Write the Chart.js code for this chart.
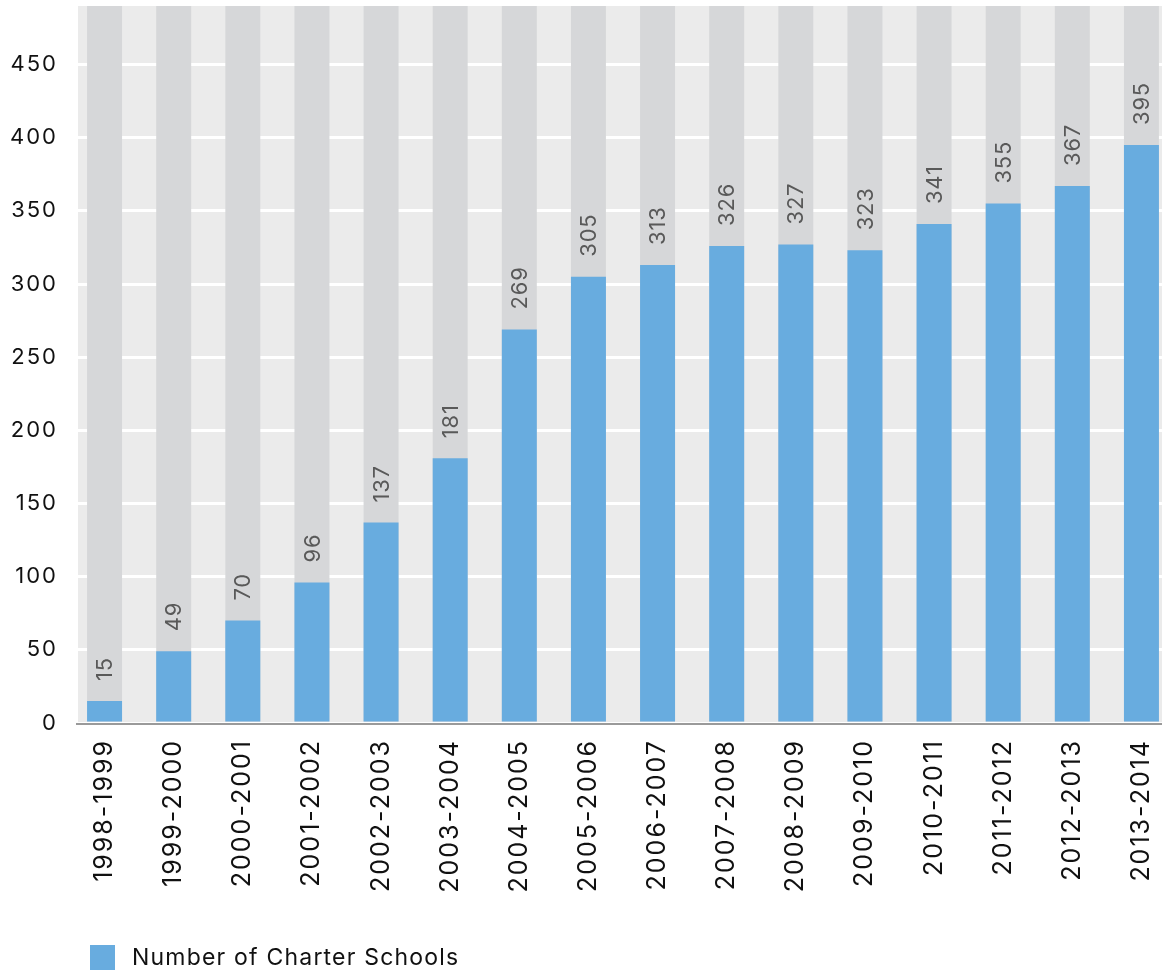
<!DOCTYPE html>
<html>
<head>
<meta charset="utf-8">
<title>Number of Charter Schools</title>
<script src="https://cdn.jsdelivr.net/npm/chart.js@4.4.1/dist/chart.umd.min.js"></script>
<style>
  html, body { margin: 0; padding: 0; background: #fff; overflow: hidden; }
  #wrap { position: relative; width: 1180px; height: 971px; }
  #canvasBox { position: absolute; left: 0; top: 0; width: 1180px; height: 971px; }
  #legend {
    position: absolute; left: 90px; top: 943px;
    display: flex; align-items: center;
    font-family: Inter, "Noto Sans", sans-serif; font-size: 23px;
    color: #111; letter-spacing: 1.2px;
  }
  #legend .box { width: 25px; height: 25px; margin-right: 17px; }
</style>
</head>
<body>
<div id="wrap">
  <div id="canvasBox"><canvas id="chart"></canvas></div>
  <div id="legend"></div>
</div>
<script>
const years = [
  '1998-1999', '1999-2000', '2000-2001', '2001-2002', '2002-2003', '2003-2004',
  '2004-2005', '2005-2006', '2006-2007', '2007-2008', '2008-2009', '2009-2010',
  '2010-2011', '2011-2012', '2012-2013', '2013-2014'
];
const schools = [15, 49, 70, 96, 137, 181, 269, 305, 313, 326, 327, 323, 341, 355, 367, 395];
const yTicks = [0, 50, 100, 150, 200, 250, 300, 350, 400, 450];
const Y_MAX = 490;
// grey track behind every bar, running to the top of the axis
const track = years.map(() => Y_MAX);

const FONT = 'Inter, "Noto Sans", sans-serif';
const BLUE = '#68acdf';

// letter spacing lives on the context and is lost on every resize
const spacing = {
  id: 'spacing',
  beforeLayout(chart) { chart.ctx.letterSpacing = '2px'; },
  beforeDraw(chart) { chart.ctx.letterSpacing = '2px'; }
};

const plotBackground = {
  id: 'plotBackground',
  beforeDraw(chart) {
    const { ctx, chartArea: a } = chart;
    const left = a.left + 8;
    ctx.save();
    ctx.fillStyle = '#ebebeb';
    ctx.fillRect(left, a.top, a.right - left, a.bottom - a.top);
    ctx.restore();
  },
  afterDatasetsDraw(chart) {
    const { ctx, chartArea: a } = chart;
    ctx.save();
    ctx.strokeStyle = '#9a9a9a';
    ctx.lineWidth = 2;
    ctx.beginPath();
    ctx.moveTo(a.left + 6, a.bottom + 1);
    ctx.lineTo(a.right, a.bottom + 1);
    ctx.stroke();
    ctx.restore();
  }
};

const valueLabels = {
  id: 'valueLabels',
  afterDatasetsDraw(chart) {
    const { ctx } = chart;
    const meta = chart.getDatasetMeta(0);
    ctx.save();
    ctx.font = '22px ' + FONT;
    ctx.letterSpacing = '0.8px';
    ctx.fillStyle = '#595959';
    ctx.textAlign = 'left';
    ctx.textBaseline = 'middle';
    meta.data.forEach((bar, i) => {
      ctx.save();
      ctx.translate(bar.x, bar.y - 20);
      ctx.rotate(-Math.PI / 2);
      ctx.fillText(String(schools[i]), 0, 1);
      ctx.restore();
    });
    ctx.restore();
  }
};

const ctx = document.getElementById('chart').getContext('2d');
const chart = new Chart(ctx, {
  type: 'bar',
  data: {
    labels: years,
    datasets: [
      {
        label: 'Number of Charter Schools',
        data: schools,
        backgroundColor: BLUE,
        grouped: false,
        order: 0
      },
      {
        label: 'track',
        data: track,
        backgroundColor: '#d6d7d9',
        grouped: false,
        order: 1
      }
    ]
  },
  options: {
    responsive: true,
    maintainAspectRatio: false,
    animation: false,
    layout: { padding: { top: 6, right: 4, bottom: 68, left: 0 } },
    datasets: { bar: { barPercentage: 0.506, categoryPercentage: 1 } },
    plugins: {
      legend: { display: false },
      tooltip: { enabled: false }
    },
    scales: {
      x: {
        grid: { display: false },
        border: { display: false },
        ticks: {
          autoSkip: false,
          minRotation: 90,
          maxRotation: 90,
          padding: 8,
          color: '#111',
          font: { family: FONT, size: 25 }
        },
        afterFit(scale) {
          scale.height = 180;
          scale.paddingLeft = 0;
          scale.paddingRight = 0;
        }
      },
      y: {
        min: 0,
        max: Y_MAX,
        grid: { color: '#ffffff', lineWidth: 3, drawTicks: false },
        border: { display: false },
        ticks: {
          padding: 12,
          color: '#111',
          font: { family: FONT, size: 22 }
        },
        afterBuildTicks(scale) { scale.ticks = yTicks.map(v => ({ value: v })); },
        afterFit(scale) {
          scale.width = 70;
          scale.paddingTop = 0;
          scale.paddingBottom = 0;
        }
      }
    }
  },
  plugins: [spacing, plotBackground, valueLabels]
});

// legend built from the first dataset
const legend = document.getElementById('legend');
const main = chart.data.datasets[0];
legend.innerHTML = '<span class="box" style="background:' + main.backgroundColor + '"></span>' +
  '<span>' + main.label + '</span>';
</script>
</body>
</html>
